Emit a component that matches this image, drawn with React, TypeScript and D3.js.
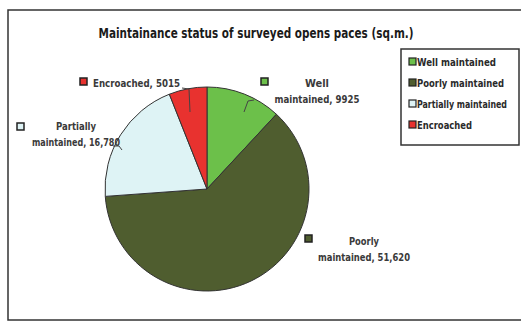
import * as d3 from "d3";

// Chart data
const categories = ["Well maintained", "Poorly maintained", "Partially maintained", "Encroached"];
const values = [9925, 51620, 16780, 5015];
const valueLabels = ["9925", "51,620", "16,780", "5015"];
const sliceColors = ["#6cc04a", "#4f5d2f", "#def3f5", "#e8322f"];
const title = "Maintainance status of surveyed opens paces (sq.m.)";

const width = 521;
const height = 325;
const cx = 207;
const cy = 189;
const radius = 102;

// where each data label sits: text lines, their widths, marker position
const labelPos: { x: number; y: number; lines: string[]; widths: number[]; mx: number; my: number; anchor: string }[] = [
  { x: 317, y: 87, lines: ["Well", "maintained, " + valueLabels[0]], widths: [24, 85], mx: 264, my: 81, anchor: "middle" },
  { x: 364, y: 245, lines: ["Poorly", "maintained, " + valueLabels[1]], widths: [30, 92], mx: 308, my: 238, anchor: "middle" },
  { x: 76, y: 130, lines: ["Partially", "maintained, " + valueLabels[2]], widths: [40, 88], mx: 20, my: 126, anchor: "middle" },
  { x: 93, y: 87, lines: ["Encroached, " + valueLabels[3]], widths: [87], mx: 83, my: 81, anchor: "start" },
];
const legendWidths = [79, 87, 90, 55];

const font = "'DejaVu Sans Condensed', 'Liberation Sans', sans-serif";

const App = () => {
  const pie = d3
    .pie<number>()
    .sort(null)
    .value(d => d);
  const arcs = pie(values);
  const arc = d3.arc<d3.PieArcDatum<number>>().innerRadius(0).outerRadius(radius);

  // leader lines
  const leaders = [
    [
      [254, 100],
      [248, 101],
      [244, 112],
    ],
    [
      [182, 88],
      [189, 89],
      [190, 112],
    ],
    [
      [113, 146],
      [119, 146],
      [122, 150],
    ],
  ] as [number, number][][];
  const line = d3.line();

  return (
    <svg width={width} height={height} style={{ display: "block", position: "absolute", left: 0, top: 0 }}>
      <rect x={0} y={0} width={width} height={height} fill="#fff" />
      {/* outer frame */}
      <rect x={8} y={10} width={520} height={310} fill="none" stroke="#333" strokeWidth={1.5} />
      <text
        x={256}
        y={38}
        textAnchor="middle"
        fontFamily={font}
        fontWeight="bold"
        fontSize={14}
        fill="#1a1a1a"
        textLength={315}
        lengthAdjust="spacingAndGlyphs"
      >
        {title}
      </text>

      <g transform={`translate(${cx},${cy})`}>
        {arcs.map((a, i) => (
          <path key={i} d={arc(a) ?? ""} fill={sliceColors[i]} stroke="#333" strokeWidth={1} />
        ))}
      </g>

      {/* data labels */}
      {labelPos.map((p, i) => (
        <g key={i}>
          <rect x={p.mx - 3} y={p.my - 3} width={7} height={7} fill={sliceColors[i]} stroke="#222" strokeWidth={1.5} />
          {p.lines.map((l, j) => (
            <text
              key={j}
              x={p.x}
              y={p.y + j * 16}
              textAnchor={p.anchor}
              fontFamily={font}
              fontSize={11}
              fontWeight="bold"
              fill="#3a3a3a"
              textLength={p.widths[j]}
              lengthAdjust="spacingAndGlyphs"
            >
              {l}
            </text>
          ))}
        </g>
      ))}
      {leaders.map((pts, i) => (
        <path key={i} d={line(pts) ?? ""} fill="none" stroke="#444" strokeWidth={1} />
      ))}

      {/* legend */}
      <rect x={401} y={49} width={118} height={96} fill="#fff" stroke="#333" strokeWidth={1.5} />
      {categories.map((c, i) => (
        <g key={c} transform={`translate(409,${62 + i * 21})`}>
          <rect x={0} y={-4} width={7} height={7} fill={sliceColors[i]} stroke="#222" strokeWidth={1.2} />
          <text
            x={8}
            y={4}
            fontFamily={font}
            fontSize={10}
            fontWeight="bold"
            fill="#2a2a2a"
            textLength={legendWidths[i]}
            lengthAdjust="spacingAndGlyphs"
          >
            {c}
          </text>
        </g>
      ))}
    </svg>
  );
};

export default App;
